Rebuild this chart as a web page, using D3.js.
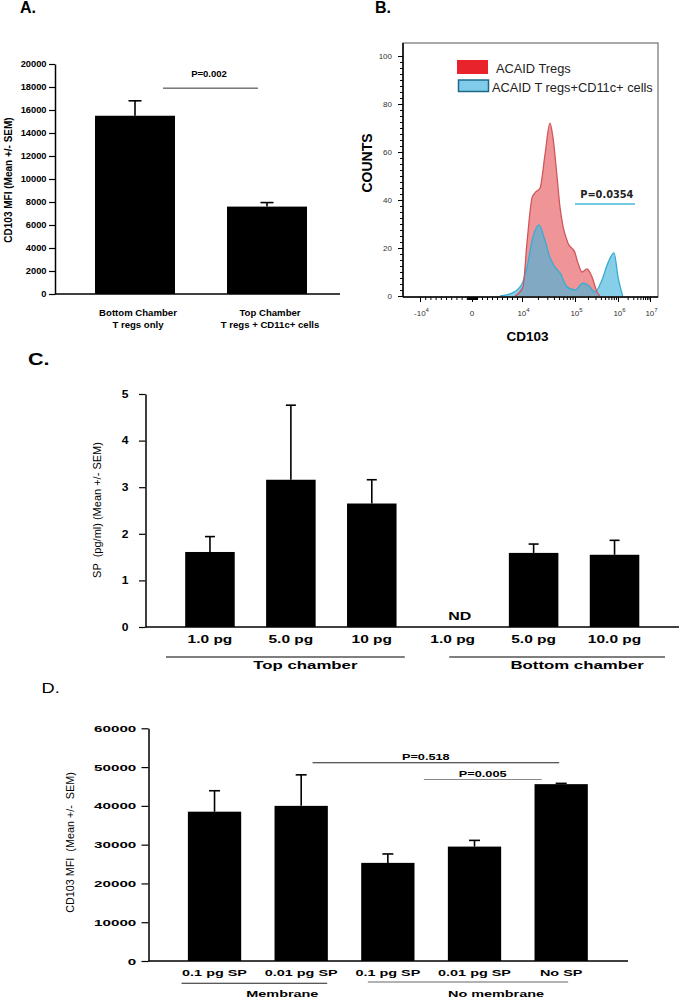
<!DOCTYPE html>
<html>
<head>
<meta charset="utf-8">
<script src="https://d3js.org/d3.v7.min.js"></script>
<style>
  body { margin: 0; background: #fff; }
  text { font-family: "Liberation Sans", Arial, sans-serif; fill: #000; }
</style>
</head>
<body>
<div id="figure"></div>
<script>
// ---------- data ----------
// A: CD103 MFI per chamber
var aGroups = ["Bottom Chamber", "Top Chamber"];
var aSubLabels = ["T regs only", "T regs + CD11c+ cells"];
var aMeans = [15500, 7600];
var aSem = [1300, 350];
var aTicks = [0, 2000, 4000, 6000, 8000, 10000, 12000, 14000, 16000, 18000, 20000];
var aPValue = "P=0.002";

// B: CD103 histograms (x = CD103 intensity, y = counts)
var bLegend = ["ACAID Tregs", "ACAID T regs+CD11c+ cells"];
var bTregsX = [8600, 10400, 12400, 15500, 17600, 21900, 27200, 33700, 38400, 45700, 52100, 59400, 73800, 100000, 117000, 146000, 190000, 248000, 325000, 381000];
var bTregsCounts = [0, 3.7, 22, 41, 43, 45, 59, 72, 66, 50, 37, 29, 22, 18, 13.8, 10, 11.3, 8, 1.7, 0];
var bCd11cX = [5600, 8000, 10000, 12400, 16100, 20900, 27200, 33700, 42000, 52100, 70700, 100000, 153000, 200000, 292000, 425000, 585000, 807000, 1000000, 1400000];
var bCd11cCounts = [0, 1.2, 5, 12, 24.6, 29.6, 23, 16, 12, 9.6, 3.8, 2.5, 5.4, 4.6, 1.7, 6.7, 13.8, 18, 8, 0];
var bCountTicks = [0, 20, 40, 60, 80, 100];
var bDecades = [-1e4, 0, 1e4, 1e5, 1e6, 1e7];
var bDecadeLabels = [["-10", "4"], ["0", ""], ["10", "4"], ["10", "5"], ["10", "6"], ["10", "7"]];
var bPValue = "P=0.0354";

// C: SP per dose and chamber
var cDoses = ["1.0 pg", "5.0 pg", "10 pg", "1.0 pg", "5.0 pg", "10.0 pg"];
var cMeans = [1.61, 3.16, 2.65, null, 1.59, 1.55];
var cSem = [0.33, 1.60, 0.51, null, 0.19, 0.31];
var cChambers = ["Top chamber", "Bottom chamber"];
var cTicks = [0, 1, 2, 3, 4, 5];

// D: CD103 MFI per treatment
var dTreatments = ["0.1 pg SP", "0.01 pg SP", "0.1 pg SP", "0.01 pg SP", "No SP"];
var dMeans = [38500, 40000, 25300, 29500, 45600];
var dSem = [5400, 8000, 2300, 1600, 200];
var dConditions = ["Membrane", "No membrane"];
var dPValues = ["P=0.518", "P=0.005"];
var dTicks = [0, 10000, 20000, 30000, 40000, 50000, 60000];

// ---------- helpers ----------
var svg = d3.select("#figure").append("svg")
  .attr("width", 683)
  .attr("height", 999);

// text that may be stretched horizontally (panels C and D are wide in the figure)
function label(g, x, y, str, size, bold, sx, anchor) {
  return g.append("text")
    .attr("transform", "translate(" + x + "," + y + ") scale(" + (sx || 1) + ",1)")
    .attr("text-anchor", anchor || "middle")
    .style("font-size", size + "px")
    .style("font-weight", bold ? "bold" : "normal")
    .text(str);
}

function vlabel(g, x, y, str, size, bold) {
  return g.append("text")
    .attr("transform", "translate(" + x + "," + y + ") rotate(-90)")
    .attr("text-anchor", "middle")
    .style("font-size", size + "px")
    .style("font-weight", bold ? "bold" : "normal")
    .style("white-space", "pre")
    .text(str);
}

function styleAxis(g, size, sx, gap) {
  g.select(".domain").attr("stroke-width", 1.5);
  g.selectAll(".tick line").attr("stroke-width", 1.2);
  g.selectAll(".tick text")
    .attr("x", -gap / sx)
    .attr("transform", "scale(" + sx + ",1)")
    .style("font-size", size + "px")
    .style("font-weight", "bold");
}

function drawBars(g, x, y, means, sem, capW) {
  var rows = means.map(function (m, i) { return { i: i, m: m, s: sem[i] }; })
    .filter(function (d) { return d.m != null; });
  var cx = function (d) { return x(d.i) + x.bandwidth() / 2; };

  g.selectAll("rect.bar").data(rows).enter().append("rect")
    .attr("class", "bar")
    .attr("x", function (d) { return x(d.i); })
    .attr("y", function (d) { return y(d.m); })
    .attr("width", x.bandwidth())
    .attr("height", function (d) { return y(0) - y(d.m); })
    .attr("fill", "#000");

  g.selectAll("line.err").data(rows).enter().append("line")
    .attr("class", "err")
    .attr("x1", cx).attr("x2", cx)
    .attr("y1", function (d) { return y(d.m); })
    .attr("y2", function (d) { return y(d.m + d.s); })
    .attr("stroke", "#000").attr("stroke-width", 1.6);

  g.selectAll("line.cap").data(rows).enter().append("line")
    .attr("class", "cap")
    .attr("x1", function (d) { return cx(d) - capW / 2; })
    .attr("x2", function (d) { return cx(d) + capW / 2; })
    .attr("y1", function (d) { return y(d.m + d.s); })
    .attr("y2", function (d) { return y(d.m + d.s); })
    .attr("stroke", "#000").attr("stroke-width", 1.6);
}

function hline(g, x1, x2, y, color, w) {
  g.append("line").attr("x1", x1).attr("x2", x2).attr("y1", y).attr("y2", y)
    .attr("stroke", color).attr("stroke-width", w);
}

// ---------- Panel A ----------
var gA = svg.append("g");
var xA = d3.scaleBand().domain(d3.range(aGroups.length)).range([69, 333])
  .paddingInner(0.394).paddingOuter(0.197);
var yA = d3.scaleLinear().domain([0, 20000]).range([294, 64]);
var cA = function (i) { return xA(i) + xA.bandwidth() / 2; };

gA.append("g").attr("transform", "translate(55,0)")
  .call(d3.axisLeft(yA).tickValues(aTicks).tickSize(6).tickSizeOuter(0).tickFormat(d3.format("d")))
  .call(styleAxis, 9.3, 1, 8.5);
hline(gA, 55, 340, yA(0), "#000", 1.5);
drawBars(gA, xA, yA, aMeans, aSem, 13);

hline(gA, cA(0) + 28, cA(1) - 9, yA(17900), "#333", 1);
label(gA, 209, 77, aPValue, 9.5, true);

aGroups.forEach(function (t, i) {
  label(gA, cA(i) + 3, 316, t, 9.6, true);
  label(gA, cA(i) + 3, 327.5, aSubLabels[i], 9.6, true);
});
vlabel(gA, 12, 180, "CD103 MFI (Mean +/- SEM)", 10, true);
label(gA, 20, 13, "A.", 16, true, 1, "start");

// ---------- Panel B ----------
var gB = svg.append("g");
var frameB = { left: 403, right: 658, top: 43, bottom: 297 };
// biexponential-like display: linear around zero, log above 10^4
var uB = d3.scaleLinear().domain([-1, 0, 1, 2, 3, 4]).range([420, 472, 522, 575, 618, 650]);
function biex(v) {
  return Math.abs(v) <= 1e4 ? v / 1e4 : Math.sign(v) * (Math.log10(Math.abs(v)) - 3);
}
var xB = function (v) { return uB(biex(v)); };
var yB = d3.scaleLinear().domain([0, 100]).range([296, 56]);

gB.append("rect")
  .attr("x", frameB.left).attr("y", frameB.top)
  .attr("width", frameB.right - frameB.left).attr("height", frameB.bottom - frameB.top)
  .attr("fill", "none").attr("stroke", "#555").attr("stroke-width", 1);

var areaB = d3.area()
  .x(function (d) { return xB(d[0]); })
  .y0(yB(0))
  .y1(function (d) { return yB(d[1]); })
  .curve(d3.curveMonotoneX);
var lineB = d3.line()
  .x(function (d) { return xB(d[0]); })
  .y(function (d) { return yB(d[1]); })
  .curve(d3.curveMonotoneX);

var tregs = d3.zip(bTregsX, bTregsCounts);
var cd11c = d3.zip(bCd11cX, bCd11cCounts);

gB.append("path").datum(tregs).attr("d", areaB).attr("fill", "#f09597");
gB.append("path").datum(cd11c).attr("d", areaB).attr("fill", "#46b3dc").attr("fill-opacity", 0.65);
gB.append("path").datum(cd11c).attr("d", lineB).attr("fill", "none").attr("stroke", "#36acd4").attr("stroke-width", 1.3);
gB.append("path").datum(tregs).attr("d", lineB).attr("fill", "none").attr("stroke", "#cf565c").attr("stroke-width", 1.3);

// y axis with minor ticks
var yAxisB = gB.append("g").attr("transform", "translate(" + frameB.left + ",0)")
  .call(d3.axisLeft(yB).tickValues(bCountTicks).tickSize(5).tickFormat(d3.format("d")));
yAxisB.select(".domain").remove();
yAxisB.selectAll("text").attr("x", -11).style("font-size", "8px").style("fill", "#333");
var yMinorB = gB.append("g").attr("transform", "translate(" + frameB.left + ",0)")
  .call(d3.axisLeft(yB).tickValues(d3.range(0, 101, 2.5).filter(function (v) { return v % 20 !== 0; }))
    .tickSize(3).tickFormat(""));
yMinorB.select(".domain").remove();

// x axis: major decades + minor ticks
var minorB = [];
d3.range(1, 10).forEach(function (k) {
  minorB.push(k * 100, -k * 100, k * 1000, -k * 1000);
  if (k > 1) { [1e4, 1e5, 1e6].forEach(function (d) { minorB.push(k * d); }); }
});
var xAxisB = gB.append("g").attr("transform", "translate(0," + frameB.bottom + ")")
  .call(d3.axisBottom(uB).tickValues(bDecades.map(biex)).tickSize(5).tickFormat(""));
xAxisB.select(".domain").remove();
var xMinorB = gB.append("g").attr("transform", "translate(0," + frameB.bottom + ")")
  .call(d3.axisBottom(uB).tickValues(minorB.map(biex)).tickSize(3).tickFormat(""));
xMinorB.select(".domain").remove();

bDecades.forEach(function (v, i) {
  var t = gB.append("text")
    .attr("x", xB(v) + (bDecadeLabels[i][1] ? 1.5 : 0)).attr("y", 316)
    .attr("text-anchor", "middle")
    .style("font-size", "8px").style("fill", "#333");
  t.append("tspan").text(bDecadeLabels[i][0]);
  if (bDecadeLabels[i][1]) {
    t.append("tspan").attr("dy", -4.5).style("font-size", "6px").text(bDecadeLabels[i][1]);
  }
});

hline(gB, frameB.left, frameB.right, frameB.bottom, "#000", 1.5);
gB.append("line").attr("x1", frameB.left).attr("x2", frameB.left)
  .attr("y1", frameB.top).attr("y2", frameB.bottom)
  .attr("stroke", "#000").attr("stroke-width", 1.5);

// legend
gB.append("rect").attr("x", 457).attr("y", 60).attr("width", 31).attr("height", 14).attr("fill", "#e8232c");
gB.append("rect").attr("x", 458.5).attr("y", 80).attr("width", 30).attr("height", 11.5)
  .attr("fill", "#7fcdea").attr("stroke", "#1f6a8a").attr("stroke-width", 1.5);
label(gB, 496, 72.5, bLegend[0], 12.8, false, 1, "start").style("fill", "#222");
label(gB, 492, 91.5, bLegend[1], 12.8, false, 1, "start").style("fill", "#222");

// p value
hline(gB, xB(1e5), xB(3.4e6), yB(38.3), "#45b5d8", 1.5);
gB.append("text").attr("x", xB(5.5e5)).attr("y", 198)
  .attr("text-anchor", "middle")
  .style("font-family", "DejaVu Sans").style("font-weight", "bold").style("font-size", "9.8px")
  .style("fill", "#222")
  .text(bPValue);

vlabel(gB, 372, 163, "COUNTS", 14, true);
label(gB, 527.5, 341, "CD103", 13.5, true);
label(gB, 375, 13, "B.", 16, true, 1, "start");

// ---------- Panel C ----------
var gC = svg.append("g");
var xC = d3.scaleBand().domain(d3.range(cDoses.length)).range([169.5, 655])
  .paddingInner(0.388).paddingOuter(0.194);
var yC = d3.scaleLinear().domain([0, 5]).range([627, 394]);
var cC = function (i) { return xC(i) + xC.bandwidth() / 2; };

gC.append("g").attr("transform", "translate(145.5,0)")
  .call(d3.axisLeft(yC).tickValues(cTicks).tickSize(6.5).tickSizeOuter(0).tickFormat(d3.format("d")))
  .call(styleAxis, 10.5, 1.15, 17);
hline(gC, 145.5, 679, yC(0), "#000", 1.5);
drawBars(gC, xC, yC, cMeans, cSem, 10);

cMeans.forEach(function (m, i) {
  if (m == null) label(gC, cC(i) + 7, 620, "ND", 11, true, 1.45);
});
cDoses.forEach(function (t, i) {
  label(gC, cC(i), 643, t, 10, true, 1.55);
});

// chamber groups: [first, last] bar index, line extends a little past the bars
var cSpans = [[0, 2, 44, 33], [3, 5, 3.5, 50.5]];
cChambers.forEach(function (t, k) {
  var s = cSpans[k];
  var x1 = cC(s[0]) - s[2], x2 = cC(s[1]) + s[3];
  hline(gC, x1, x2, 657, "#000", 1.2);
  label(gC, (x1 + x2) / 2 + 20, 669, t, 10.5, true, 1.6);
});

vlabel(gC, 101, 510, "SP  (pg/ml) (Mean +/- SEM)", 11, false);
label(gC, 28, 365, "C.", 16, true, 1.35, "start");

// ---------- Panel D ----------
var gD = svg.append("g");
var xD = d3.scaleBand().domain(d3.range(dTreatments.length)).range([171.2, 604.5])
  .paddingInner(0.385).paddingOuter(0.1925);
var yD = d3.scaleLinear().domain([0, 60000]).range([961, 728.3]);
var cD = function (i) { return xD(i) + xD.bandwidth() / 2; };

gD.append("g").attr("transform", "translate(148.5,0)")
  .call(d3.axisLeft(yD).tickValues(dTicks).tickSize(7).tickSizeOuter(0).tickFormat(d3.format("d")))
  .call(styleAxis, 9.5, 1.6, 12.2);
hline(gD, 148.5, 628, yD(0), "#000", 1.5);
drawBars(gD, xD, yD, dMeans, dSem, 11);

dTreatments.forEach(function (t, i) {
  label(gD, cD(i), 975.5, t, 9.3, true, 1.55);
});

// condition groups
var dSpans = [[0, 1, 33, 26, "#222"], [2, 4, 20, 7, "#666"]];
dConditions.forEach(function (t, k) {
  var s = dSpans[k];
  var x1 = cD(s[0]) - s[2], x2 = cD(s[1]) + s[3];
  hline(gD, x1, x2, k === 0 ? 983.3 : 982, s[4], 1.1);
  label(gD, (x1 + x2) / 2 + 28, 996.5, t, 9.3, true, 1.55);
});

// significance bars
hline(gD, cD(1) + 11.4, cD(4) - 2, yD(51100), "#222", 1.1);
label(gD, 425.8, 760, dPValues[0], 8.5, true, 1.5);
hline(gD, cD(2) + 36, cD(4) - 19.5, yD(46800), "#888", 1.1);
label(gD, 482.7, 776.5, dPValues[1], 8.5, true, 1.5);

vlabel(gD, 74, 842.5, "CD103 MFI  (Mean +/-  SEM)", 10.8, false);
label(gD, 41.5, 693, "D.", 14, false, 1.3, "start");
</script>
</body>
</html>
